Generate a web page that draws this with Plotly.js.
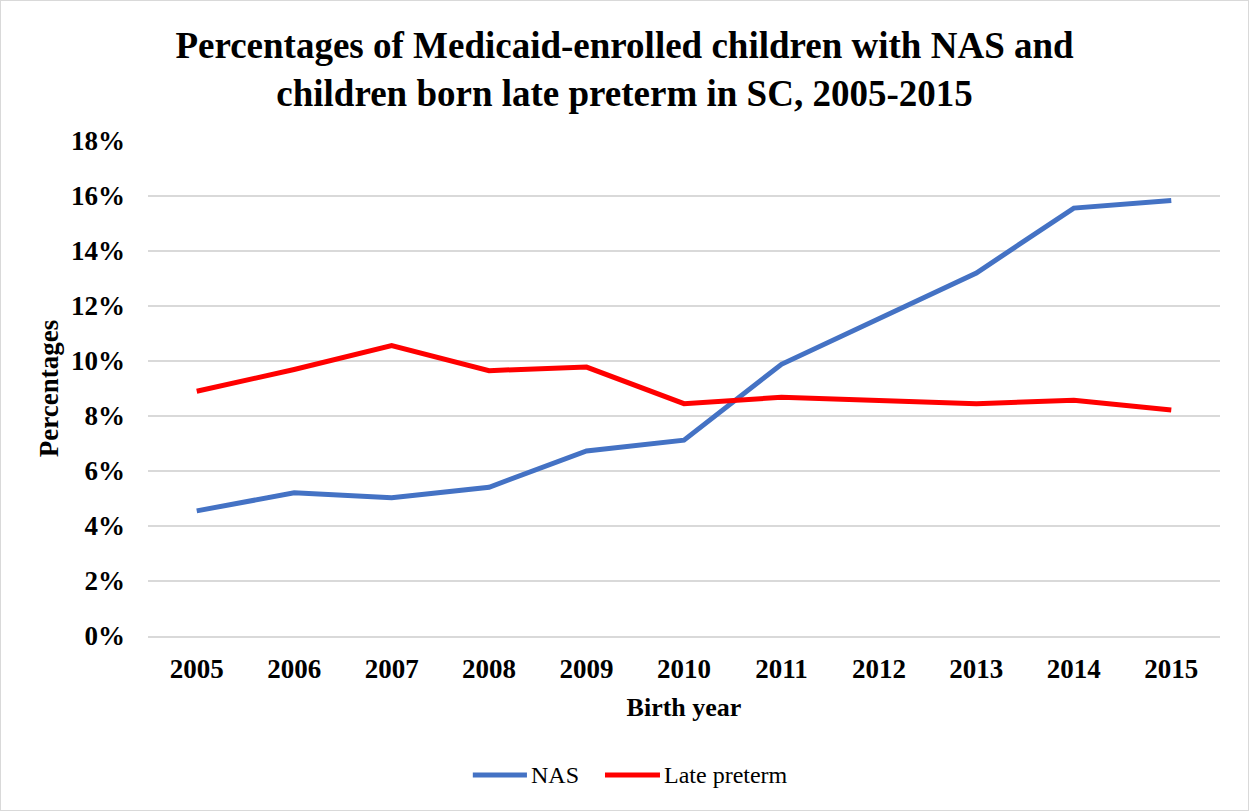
<!DOCTYPE html>
<html>
<head>
<meta charset="utf-8">
<script src="https://cdn.plot.ly/plotly-3.0.1.min.js"></script>
<style>
html,body{margin:0;padding:0;background:#fff;}
#chart{width:1247px;height:809px;border:1px solid #d9d9d9;}
</style>
</head>
<body>
<div id="chart"></div>
<script>
const years = ['2005','2006','2007','2008','2009','2010','2011','2012','2013','2014','2015'];
const nasValues = [0.0455, 0.0521, 0.0503, 0.0541, 0.0673, 0.0712, 0.0988, 0.1154, 0.1320, 0.1556, 0.1584];
const latePretermValues = [0.0890, 0.0969, 0.1056, 0.0965, 0.0978, 0.0845, 0.0868, 0.0857, 0.0845, 0.0857, 0.0822];
const yTickVals = [0, 0.02, 0.04, 0.06, 0.08, 0.10, 0.12, 0.14, 0.16, 0.18];
const seriesNames = ['NAS', 'Late preterm'];
const seriesColors = ['#4472c4', '#ff0000'];

const font = 'Liberation Serif, Times New Roman, serif';
const traces = [
  {x: years, y: nasValues, name: seriesNames[0], type: 'scatter', mode: 'lines',
   line: {color: seriesColors[0], width: 5}, showlegend: false},
  {x: years, y: latePretermValues, name: seriesNames[1], type: 'scatter', mode: 'lines',
   line: {color: seriesColors[1], width: 5}, showlegend: false}
];

// Legend drawn as shapes + annotations (longer line keys, like the original)
const legY = -0.281;
const legKeys = [[0.303, 0.3535], [0.4263, 0.4776]];
const shapes = legKeys.map((k, i) => ({
  type: 'line', xref: 'paper', yref: 'paper', x0: k[0], x1: k[1], y0: legY, y1: legY,
  line: {color: seriesColors[i], width: 5}
}));
const annotations = legKeys.map((k, i) => ({
  xref: 'paper', yref: 'paper', x: k[1] + 0.002, y: legY, xanchor: 'left', yanchor: 'middle',
  text: seriesNames[i], showarrow: false, font: {size: 24, family: font, color: '#000'}
}));

const layout = {
  width: 1247, height: 809,
  margin: {l: 147, r: 28, t: 140, b: 174},
  paper_bgcolor: '#fff', plot_bgcolor: '#fff',
  font: {family: font, color: '#000'},
  title: {text: '<b>Percentages of Medicaid-enrolled children with NAS and<br>children born late preterm in SC, 2005-2015</b>',
    font: {size: 37, family: font, color: '#000'}, x: 0.5, xanchor: 'center', y: 0.93, yanchor: 'top'},
  xaxis: {type: 'category', range: [-0.5, 10.5], showgrid: false, zeroline: false,
    showline: true, linecolor: '#d9d9d9', linewidth: 1.5, ticks: '',
    ticklabelstandoff: 8,
    tickfont: {size: 27, family: font, color: '#000', weight: 'bold'},
    title: {text: '<b>Birth year</b>', font: {size: 26, family: font, color: '#000'}, standoff: 15}},
  yaxis: {range: [0, 0.18], tickvals: yTickVals, tickformat: '.0%', showgrid: true,
    gridcolor: '#d9d9d9', gridwidth: 1.5, zeroline: false, showline: false, ticks: '',
    ticklabelstandoff: 22,
    tickfont: {size: 27, family: font, color: '#000', weight: 'bold'},
    title: {text: '<b>Percentages</b>', font: {size: 27, family: font, color: '#000'}, standoff: 4}},
  shapes: shapes,
  annotations: annotations,
  showlegend: false
};
Plotly.newPlot('chart', traces, layout, {displayModeBar: false, staticPlot: true});
</script>
</body>
</html>
